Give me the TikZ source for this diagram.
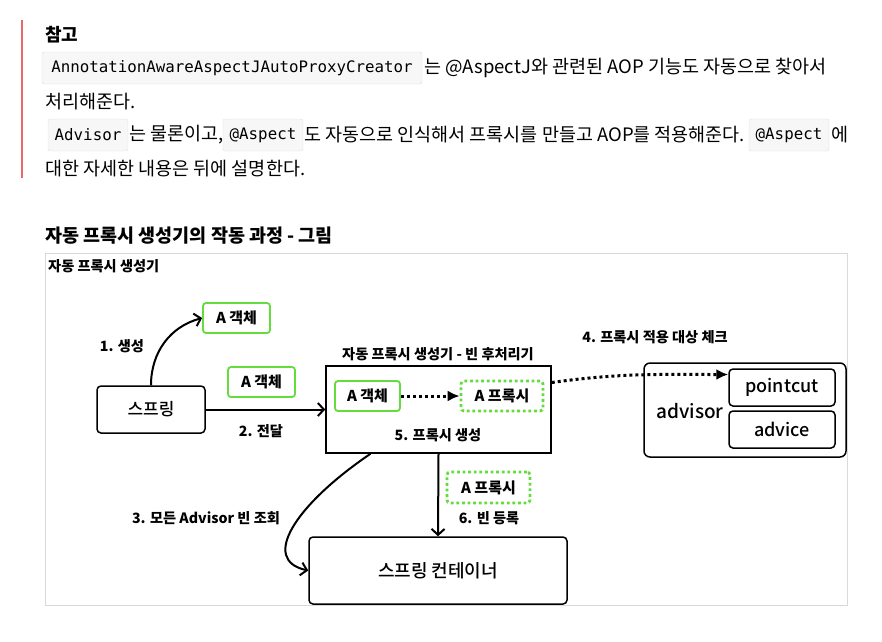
\documentclass[tikz,border=0pt]{standalone}
\usepackage{fontspec}
\setmainfont{Noto Sans CJK KR}
\newfontfamily\medfont{Noto Sans CJK KR Medium}
\newfontfamily\codefont{DejaVu Sans Mono}
\usetikzlibrary{arrows.meta,calc,positioning}
\definecolor{grn}{RGB}{100,220,62}
\definecolor{redbar}{RGB}{232,104,104}

\begin{document}
\begin{tikzpicture}[x=1pt,y=-1pt]
\tikzset{txt/.style = {anchor=west, inner sep=0pt, font=\fontsize{18.5}{20}\selectfont}}
\tikzset{code/.style = {shape=rectangle, draw=gray!25, fill=gray!6, rounded corners=2pt, minimum height=32pt, inner sep=0pt, font=\codefont\fontsize{15.8}{18}\selectfont}}
\tikzset{box/.style = {shape=rectangle, draw, line width=1.5pt, rounded corners=4pt, font=\medfont\fontsize{17}{18}\selectfont}}
\tikzset{obj/.style = {shape=rectangle, draw=grn, fill=white, line width=1.8pt, rounded corners=3pt, minimum height=30pt, font=\bfseries\fontsize{15}{16}\selectfont}}
\tikzset{proxy/.style = {obj, line width=2.8pt, dash pattern=on 2.8pt off 2.8pt}}
\tikzset{lbl/.style = {inner sep=0pt, font=\bfseries\fontsize{14.2}{15}\selectfont}}
\tikzset{edge/.style = {-{Straight Barb[length=6pt,width=13pt]}, line width=2pt}}
\tikzset{dotedge/.style = {-{Latex[length=12pt,width=11pt]}, line width=3pt, dash pattern=on 3pt off 3pt}}

\useasboundingbox (0,0) rectangle (882,641);

%note
\draw[redbar, line width=2pt] (22,20) -- (22,178);
\node[txt, font=\bfseries\fontsize{18}{20}\selectfont] (note) at (45,35) {참고};
\node[code, minimum width=380pt] (c1) at (232,68) {AnnotationAwareAspectJAutoProxyCreator};
\node[txt] (t1) at (424,68) {는 @AspectJ와 관련된 AOP 기능도 자동으로 찾아서};
\node[txt] (t2) at (45,102) {처리해준다.};
\node[code, minimum width=80pt] (c2) at (88,135) {Advisor};
\node[txt] (t3) at (129,135) {는 물론이고,};
\node[code, minimum width=80pt] (c3) at (263,135) {@Aspect};
\node[txt] (t4) at (304,135) {도 자동으로 인식해서 프록시를 만들고 AOP를 적용해준다.};
\node[code, minimum width=80pt] (c4) at (789,135) {@Aspect};
\node[txt] (t5) at (831,135) {에};
\node[txt] (t6) at (45,169) {대한 자세한 내용은 뒤에 설명한다.};

%title
\node[txt, font=\bfseries\fontsize{18.5}{20}\selectfont] (title) at (45,236) {자동 프록시 생성기의 작동 과정 - 그림};
\draw[gray!30, line width=1pt] (45,253) rectangle (847,605);
\node[lbl, anchor=west] (frlab) at (48,266) {자동 프록시 생성기};

%nodes
\node[box, minimum width=108pt, minimum height=47pt] (spring) at (151,409.5) {스프링};
\node[obj, minimum width=67pt] (objA) at (236.5,318) {A 객체};
\node[obj, minimum width=67pt] (objB) at (261.5,382) {A 객체};
\node[box, rounded corners=0pt, minimum width=225pt, minimum height=87pt] (proc) at (438.5,409.5) {};
\node[lbl] (proclab) at (438,354) {자동 프록시 생성기 - 빈 후처리기};
\node[obj, minimum width=65pt] (inobj) at (367.5,396) {A 객체};
\node[proxy, minimum width=82pt] (inproxy) at (502,396) {A 프록시};
\node[lbl] (mk) at (438,435) {5. 프록시 생성};

\node[box, rounded corners=6pt, minimum width=202pt, minimum height=94pt] (adv) at (745,410) {};
\node[box, font=\medfont\fontsize{19}{20}\selectfont, draw=none, inner sep=0pt] (advlab) at (690,411) {advisor};
\node[box, font=\medfont\fontsize{18}{20}\selectfont, minimum width=106pt, minimum height=37pt] (pc) at (782,387.5) {pointcut};
\node[box, font=\medfont\fontsize{18}{20}\selectfont, minimum width=106pt, minimum height=37pt] (ad) at (782,429.5) {advice};
\node[lbl] (chk) at (655,337) {4. 프록시 적용 대상 체크};

\node[box, minimum width=258pt, minimum height=67pt, font=\medfont\fontsize{18}{20}\selectfont] (cont) at (438,570.5) {스프링 컨테이너};
\node[proxy, minimum width=83pt, minimum height=31pt] (regproxy) at (488.5,487.5) {A 프록시};

%labels
\node[lbl] (l1) at (122,346) {1. 생성};
\node[lbl] (l2) at (261,431) {2. 전달};
\node[lbl] (l3) at (206,518) {3. 모든 Advisor 빈 조회};
\node[lbl] (l6) at (489,518) {6. 빈 등록};

%edges
\draw[edge] (spring.north) to[out=90,in=195] (objA.west);
\draw[edge] (spring.east) -- (proc.west);
\draw[edge] ([xshift=-68pt]proc.south) .. controls (295,505) and (260,560) .. (cont.west);
\draw[edge] (proc.south) -- (cont.north);
\draw[dotedge] (inobj.east) -- (inproxy.west);
\draw[dotedge] ([yshift=27pt]proc.east) to[out=8,in=180] ([yshift=13pt]pc.west);
\end{tikzpicture}
\end{document}
